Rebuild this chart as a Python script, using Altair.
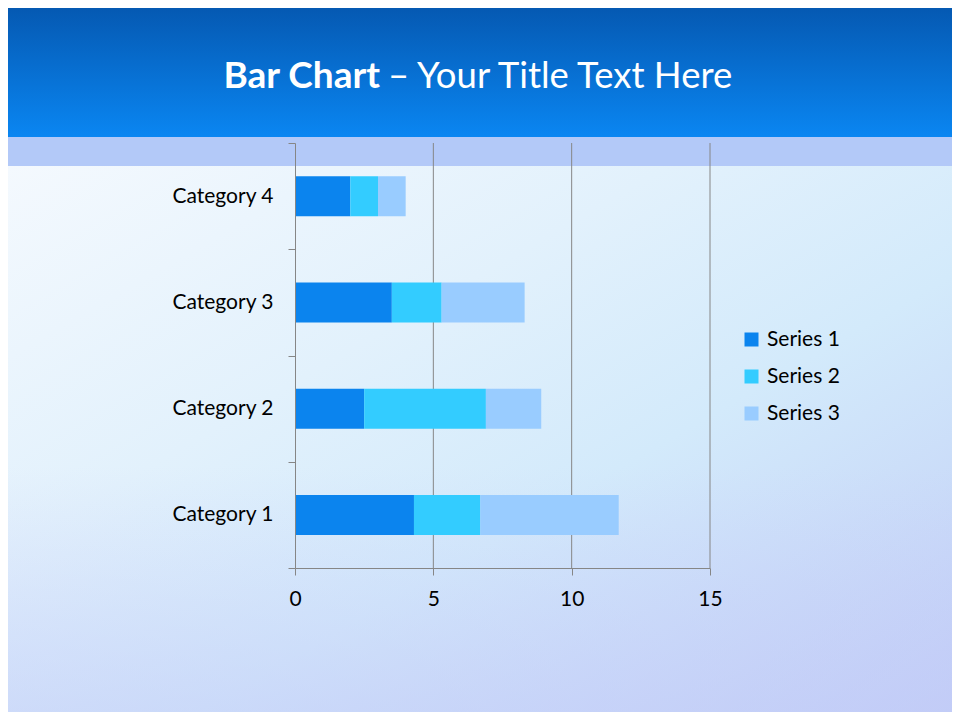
import altair as alt
import pandas as pd

# ---- data ----
categories = ["Category 1", "Category 2", "Category 3", "Category 4"]
series_names = ["Series 1", "Series 2", "Series 3"]
series_1 = [4.3, 2.5, 3.5, 2.0]
series_2 = [2.4, 4.4, 1.8, 1.0]
series_3 = [5.0, 2.0, 3.0, 1.0]
x_ticks = [0, 5, 10, 15]
grid_lines = [5, 10, 15]
title_bold = "Bar Chart"
title_rest = "– Your Title Text Here"
colors = ["#0b84ee", "#33ccff", "#99ccff"]

rows = []
for si, (name, vals) in enumerate(zip(series_names, [series_1, series_2, series_3])):
    for c, v in zip(categories, vals):
        rows.append({"category": c, "series": name, "order": si, "value": v})
df = pd.DataFrame(rows)
grid_df = pd.DataFrame({"value": grid_lines})
one = pd.DataFrame({"k": [0]})

FONT = "Lato"
GRAY = "#868686"
LABEL_SIZE = 21
W, H = 415, 425
PL, PT = 287, 135
TOTAL_W, TOTAL_H = 944, 704


def grad(stops, x1=0, y1=0, x2=0, y2=1):
    return alt.LinearGradient(
        gradient="linear",
        stops=[alt.GradientStop(color=c, offset=o) for o, c in stops],
        x1=x1, y1=y1, x2=x2, y2=y2,
    )


def box(y0, y1, color):
    return alt.Chart(one).mark_rect(color=color, strokeWidth=0).encode(
        x=alt.value(-PL), x2=alt.value(TOTAL_W - PL),
        y=alt.value(y0), y2=alt.value(y1),
    )


header = box(-PT, -6, grad([(0, "#0559b2"), (1, "#0a86f2")]))
band = box(-6, 23, "#b3c9f8")
lower = box(23, TOTAL_H - PT, grad([(0, "#f4f9fe"), (0.35, "#e2f1fc"),
                                     (0.6, "#d3eafb"), (1, "#c0ccf6")],
                                    x1=0, y1=0, x2=1, y2=1))
lower2 = box(23, TOTAL_H - PT, grad([(0, "rgba(200,205,250,0)"), (0.55, "rgba(200,205,250,0)"),
                                      (1, "rgba(196,204,248,0.55)")],
                                     x1=0, y1=0, x2=0, y2=1))

t1 = alt.Chart(one).mark_text(
    font=FONT, fontSize=37, fontWeight="bold", color="white",
    align="right", baseline="alphabetic",
).encode(x=alt.value(85), y=alt.value(-55), text=alt.value(title_bold))
t2 = alt.Chart(one).mark_text(
    font=FONT, fontSize=36.5, fontWeight="normal", color="white",
    align="left", baseline="alphabetic",
).encode(x=alt.value(93), y=alt.value(-55), text=alt.value(title_rest))

xaxis = alt.Axis(values=x_ticks, grid=False, domainColor=GRAY, tickColor=GRAY,
                 tickSize=7, labelFont=FONT, labelFontSize=LABEL_SIZE, labelColor="black",
                 labelPadding=13, title=None, zindex=1, labelFlush=False)
xscale = alt.Scale(domain=[0, 15], nice=False, zero=True)

rules = alt.Chart(grid_df).mark_rule(color=GRAY, strokeWidth=1).encode(
    x=alt.X("value:Q", scale=xscale, axis=xaxis)
)

bars = alt.Chart(df).mark_bar(size=40).encode(
    x=alt.X("value:Q", stack="zero", scale=xscale, axis=xaxis),
    y=alt.Y("category:N", sort=categories[::-1],
            scale=alt.Scale(paddingInner=0, paddingOuter=0),
            axis=alt.Axis(tickBand="extent", domainColor=GRAY, tickColor=GRAY,
                          tickSize=7, labelFont=FONT, labelFontSize=LABEL_SIZE,
                          labelColor="black", labelPadding=15, title=None,
                          zindex=1, grid=False)),
    color=alt.Color("series:N", scale=alt.Scale(domain=series_names, range=colors),
                    legend=alt.Legend(title=None, orient="none", legendX=446, legendY=186,
                                      symbolType="square", symbolSize=196,
                                      symbolStrokeWidth=0, labelFont=FONT,
                                      labelFontSize=LABEL_SIZE, labelColor="black",
                                      labelOffset=5, rowPadding=15, zindex=1)),
    order=alt.Order("order:Q"),
)

chart = alt.layer(header, band, lower, lower2, t1, t2, rules, bars).properties(
    width=W, height=H,
    padding={"left": PL, "top": PT, "right": TOTAL_W - PL - W, "bottom": TOTAL_H - PT - H},
    autosize=alt.AutoSizeParams(type="none"),
).configure_view(stroke=None)

chart.save("out.html", embed_options={"renderer": "svg", "actions": False})
